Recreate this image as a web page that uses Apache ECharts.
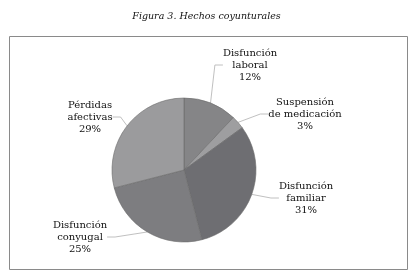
<!DOCTYPE html>
<html>
<head>
<meta charset="utf-8">
<script src="https://cdn.jsdelivr.net/npm/echarts@6/dist/echarts.min.js"></script>
<style>
  html, body { margin: 0; padding: 0; background: #fff; }
  #chart { width: 413px; height: 277px; }
</style>
</head>
<body>
<div id="chart"></div>
<script>
// categorías y porcentajes, en sentido horario desde arriba
var categorias = ['Disfunción\nlaboral', 'Suspensión\nde medicación', 'Disfunción\nfamiliar', 'Disfunción\nconyugal', 'Pérdidas\nafectivas'];
var valores = [12, 3, 31, 25, 29];
var colores = ['#858587', '#9e9ea0', '#6e6e72', '#7d7d80', '#9b9b9d'];
// centro de cada etiqueta (px)
var posEtiquetas = [[250, 65], [305, 114], [306, 198], [80, 237], [90, 117]];

var myChart = echarts.init(document.getElementById('chart'), null, {renderer: 'canvas'});
myChart.setOption({
    animation: false,
    title: {
        text: 'Figura 3. Hechos coyunturales',
        left: 'center',
        top: 7,
        textStyle: {
            fontFamily: 'DejaVu Serif',
            fontStyle: 'italic',
            fontWeight: 'normal',
            fontSize: 9.5,
            color: '#111'
        }
    },
    graphic: [{
        type: 'rect',
        shape: {x: 9.5, y: 36.5, width: 398, height: 233},
        style: {fill: 'none', stroke: '#8a8a8a', lineWidth: 1}
    }],
    series: [{
        type: 'pie',
        center: [184, 170],
        radius: 72,
        startAngle: 90,
        clockwise: true,
        data: categorias.map(function (c, i) {
            return {name: c, value: valores[i], itemStyle: {color: colores[i]}};
        }),
        itemStyle: {borderColor: '#6a6a6a', borderWidth: 0.6},
        label: {
            formatter: '{b}\n{c}%',
            fontFamily: 'DejaVu Serif',
            fontSize: 10,
            lineHeight: 12,
            color: '#111',
            align: 'center'
        },
        labelLine: {
            show: true,
            length: 8,
            length2: 8,
            lineStyle: {color: '#b0b0b0', width: 0.8}
        },
        labelLayout: function (p) {
            var pos = posEtiquetas[p.dataIndex];
            return {x: pos[0], y: pos[1], align: 'center', verticalAlign: 'middle'};
        }
    }]
});
</script>
</body>
</html>
